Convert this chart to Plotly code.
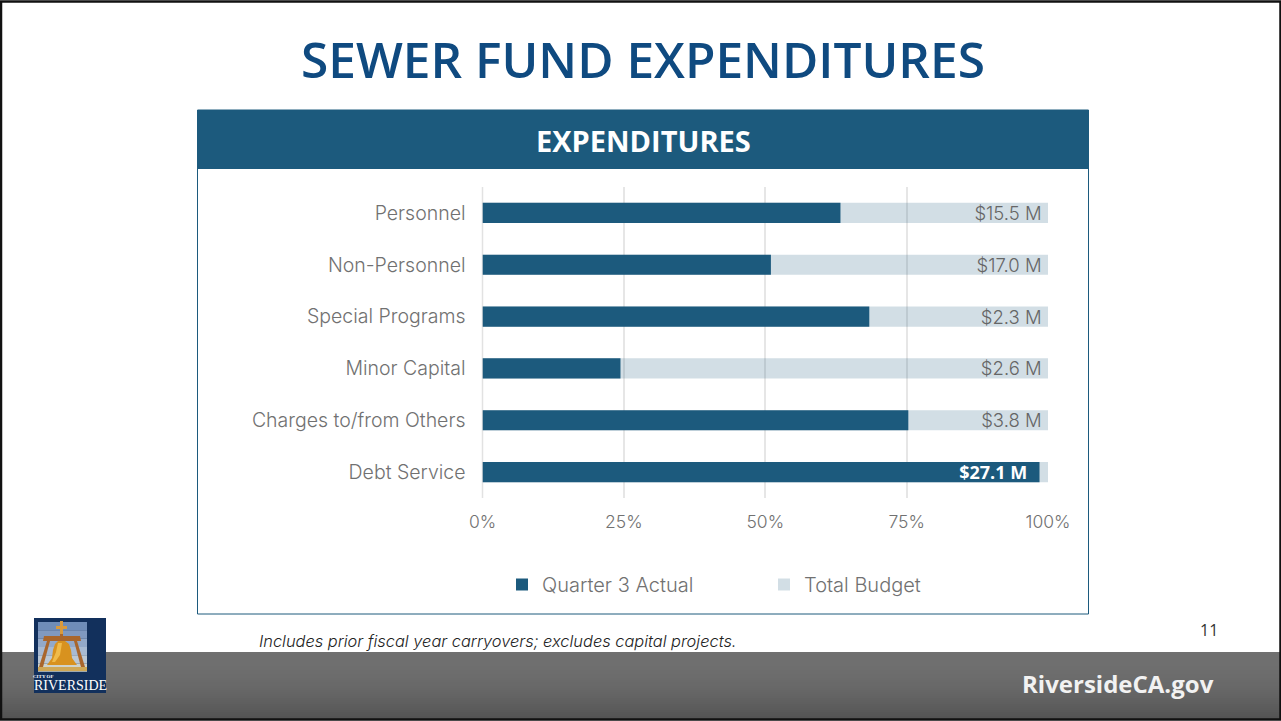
import plotly.graph_objects as go

W, H = 1281, 721
categories = ["Personnel", "Non-Personnel", "Special Programs", "Minor Capital", "Charges to/from Others", "Debt Service"]
actual_pct = [63.3, 51.0, 68.4, 24.4, 75.3, 98.5]
budget_pct = [100, 100, 100, 100, 100, 100]
budget_labels = ["$15.5 M\u2009", "$17.0 M\u2009", "$2.3 M\u2009", "$2.6 M\u2009", "$3.8 M\u2009", ""]
actual_labels = ["", "", "", "", "", "<b>$27.1 M</b>  "]
tick_vals = [0, 25, 50, 75, 100]
tick_text = ["0%", "25%", "50%", "75%", "100%"]

BLUE = "#1C5A7D"
GREY = "#717171"
FONT = "Inter"

def X(px): return px / W
def Y(py): return 1 - py / H

def rect(x0, y0, x1, y1, fill=None, line=None, lw=0, layer="below"):
    return dict(type="rect", xref="paper", yref="paper", x0=X(x0), x1=X(x1), y0=Y(y1), y1=Y(y0),
                fillcolor=fill or "rgba(0,0,0,0)", line=dict(color=line or "rgba(0,0,0,0)", width=lw), layer=layer)

def poly(pts, fill):
    path = "M " + " L ".join(f"{X(a):.5f},{Y(b):.5f}" for a, b in pts) + " Z"
    return dict(type="path", xref="paper", yref="paper", path=path, fillcolor=fill, line=dict(width=0), layer="above")

shapes = []
top, bottom = 652, 719
n = bottom - top
for i in range(0, n, 2):
    t = i / n
    v = int(112 - 30 * t * t)
    shapes.append(rect(0, top + i, W, min(top + i + 2, bottom) + 0.5, fill=f"rgb({v},{v},{v})"))
shapes.append(rect(1, 1.5, W - 0.5, H - 1.5, line="#111111", lw=2.5))
shapes.append(rect(197.5, 110, 1088.5, 614, fill="#ffffff", line=BLUE, lw=1))
shapes.append(rect(197, 110, 1089, 169, fill=BLUE))
shapes.append(rect(34, 618, 106, 693, fill="#12305c", layer="above"))
sky = ["#6f8db8", "#8099c0", "#93a9c9", "#a8bad2", "#bcc8d4", "#cfd3cc"]
for i, c in enumerate(sky):
    shapes.append(rect(38, 622 + i * 8.3, 87, 622 + (i + 1) * 8.3, fill=c, layer="above"))
shapes += [
    poly([(60, 621), (63, 621), (63, 626), (67, 626), (67, 629), (63, 629), (63, 634), (60, 634), (60, 629), (56, 629), (56, 626), (60, 626)], "#d99a3c"),
    poly([(44, 636), (80, 636), (81, 641), (43, 641)], "#a9662c"),
    poly([(47, 641), (50, 641), (43, 667), (39, 667)], "#a9662c"),
    poly([(74, 641), (77, 641), (85, 667), (81, 667)], "#a9662c"),
    poly([(60, 634), (63, 634), (63, 641), (60, 641)], "#a9662c"),
    poly([(58, 641), (65, 641), (69, 644), (71, 650), (72, 658), (77, 665), (47, 665), (52, 658), (53, 650), (55, 644)], "#d8921f"),
    poly([(58, 643), (62, 643), (60, 655), (55, 662), (52, 662), (56, 652)], "#f0bb4a"),
    poly([(38, 667), (87, 667), (87, 671), (38, 671)], "#cfa856"),
]
shapes.append(dict(type="line", xref="paper", yref="paper", x0=X(482.5), x1=X(482.5), y0=Y(498), y1=Y(187),
                   line=dict(color="#e2e2e2", width=1.5), layer="below"))

fig = go.Figure()
fig.add_bar(name="Total Budget", y=categories, x=budget_pct, orientation="h", width=0.39,
            marker=dict(color="rgba(28,90,125,0.2)", line=dict(width=0)),
            text=budget_labels, textposition="inside", insidetextanchor="end", constraintext="none",
            textfont=dict(family=FONT, size=18.5, color="#666666", weight=300), hoverinfo="skip")
fig.add_bar(name="Quarter 3 Actual", y=categories, x=actual_pct, orientation="h", width=0.39,
            marker=dict(color=BLUE, line=dict(width=0)),
            text=actual_labels, textposition="inside", insidetextanchor="end", constraintext="none",
            textfont=dict(family="Open Sans", size=18, color="#ffffff"), hoverinfo="skip")

def note(text, x, y, size, color, family=FONT, anchor="center", italic=False, weight=400):
    if italic: text = f"<i>{text}</i>"
    return dict(text=text, xref="paper", yref="paper", x=X(x), y=Y(y), xanchor=anchor, yanchor="middle",
                showarrow=False, font=dict(family=family, size=size, color=color, weight=weight))

annotations = [
    note("SEWER FUND EXPENDITURES", 643, 59, 49.6, "#0F4A80", "Open Sans", weight=600),
    note("EXPENDITURES", 643, 140, 29, "#ffffff", "Open Sans", weight=700),
    note("Includes prior fiscal year carryovers; excludes capital projects.", 257, 641, 16.4, "#222222", FONT, "left", italic=True, weight=300),
    note("11", 1209, 630, 16, "#333333", "Open Sans"),
    note("RiversideCA.gov", 1118, 683, 24, "#f2f2f2", "Open Sans", weight=700),
    note("CITY OF", 43, 676, 5, "#ffffff", "Liberation Serif", weight=700),
    note("RIVERSIDE", 70, 685, 14, "#ffffff", "Liberation Serif"),
]

fig.update_layout(
    width=W, height=H, autosize=False, margin=dict(l=0, r=0, t=0, b=0, autoexpand=False),
    paper_bgcolor="#ffffff", plot_bgcolor="rgba(0,0,0,0)", barmode="overlay", showlegend=True,
    shapes=shapes, annotations=annotations,
    xaxis=dict(domain=[X(482.5), X(1048)], range=[0, 100], tickvals=tick_vals, ticktext=tick_text,
               automargin=False, showgrid=True, gridcolor="#e6e6e6", gridwidth=1.5, zeroline=False, showline=False, ticks="",
               tickfont=dict(family=FONT, size=17.5, color=GREY, weight=300), ticklabelstandoff=11),
    yaxis=dict(domain=[Y(498), Y(187)], autorange="reversed", showgrid=False, zeroline=False, automargin=False,
               ticks="", ticklabelstandoff=16, tickfont=dict(family=FONT, size=19.5, color=GREY, weight=300)),
    legend=dict(orientation="h", x=X(502), y=Y(584.5), xanchor="left", yanchor="middle", traceorder="reversed",
                font=dict(family=FONT, size=20, color=GREY, weight=300), bgcolor="rgba(0,0,0,0)",
                entrywidth=217, entrywidthmode="pixels"),
)
fig.write_html("out.html", config=dict(displayModeBar=False),
               post_script="document.body.style.margin='0';document.body.style.overflow='hidden';")
